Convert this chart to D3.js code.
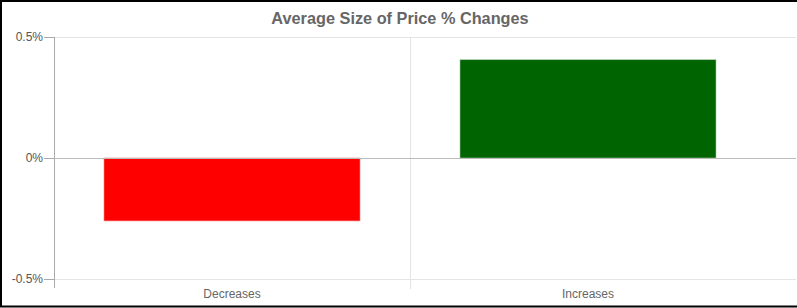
<!DOCTYPE html>
<html>
<head>
<meta charset="utf-8">
<script src="https://cdn.jsdelivr.net/npm/d3@7"></script>
<style>
  body { margin: 0; background: #fff; }
  svg { display: block; font-family: "Liberation Sans", Arial, sans-serif; }
</style>
</head>
<body>
<svg id="chart"></svg>
<script>
const categories = ['Decreases', 'Increases'];
const values = [-0.26, 0.406];
const colors = ['#ff0000', '#006400'];
const yTicks = [-0.5, 0, 0.5];
const tickLabels = ['-0.5%', '0%', '0.5%'];

const width = 797, height = 308;
const svg = d3.select('#chart').attr('width', width).attr('height', height);

const x = d3.scaleBand().domain(categories).range([54, 766]).paddingInner(0).paddingOuter(0);
const y = d3.scaleLinear().domain([-0.5, 0.5]).range([279, 37]);

// frame
svg.append('rect')
  .attr('x', 1).attr('y', 1).attr('width', width + 2).attr('height', height - 2.5)
  .attr('fill', 'none').attr('stroke', '#000').attr('stroke-width', 2);

svg.append('text')
  .attr('x', 400).attr('y', 24)
  .attr('text-anchor', 'middle')
  .attr('font-size', 16.3).attr('font-weight', 'bold').attr('fill', '#666')
  .text('Average Size of Price % Changes');

// horizontal grid
svg.append('g').selectAll('line').data(yTicks).join('line')
  .attr('x1', 44).attr('x2', 796)
  .attr('y1', d => Math.round(y(d)) + 0.5).attr('y2', d => Math.round(y(d)) + 0.5)
  .attr('stroke', d => d === 0 ? '#bbb' : '#e4e4e4');

// category divider
svg.append('line')
  .attr('x1', x('Increases') + 0.5).attr('x2', x('Increases') + 0.5)
  .attr('y1', 37).attr('y2', 289)
  .attr('stroke', '#e4e4e4');

// y axis line
svg.append('line')
  .attr('x1', 54.5).attr('x2', 54.5).attr('y1', 37).attr('y2', 288)
  .attr('stroke', '#aaa');

// tick marks + labels
svg.append('g').selectAll('line').data(yTicks).join('line')
  .attr('x1', 44).attr('x2', 54)
  .attr('y1', d => Math.round(y(d)) + 0.5).attr('y2', d => Math.round(y(d)) + 0.5)
  .attr('stroke', '#aaa');

svg.append('g').selectAll('text').data(yTicks).join('text')
  .attr('x', 43).attr('y', d => y(d) + 4)
  .attr('text-anchor', 'end').attr('font-size', 12).attr('fill', '#555')
  .text((d, i) => tickLabels[i]);

// bars
const barW = 256;
svg.append('g').selectAll('rect').data(values).join('rect')
  .attr('x', (d, i) => x(categories[i]) + (x.bandwidth() - barW) / 2)
  .attr('width', barW)
  .attr('y', d => y(Math.max(0, d)))
  .attr('height', d => Math.abs(y(d) - y(0)))
  .attr('fill', (d, i) => colors[i])
  .attr('stroke', (d, i) => i === 0 ? '#ff8080' : '#a0c8a0').attr('stroke-width', 0.6);

// zero line over bars
svg.append('line')
  .attr('x1', 54).attr('x2', 796)
  .attr('y1', Math.round(y(0)) + 0.5).attr('y2', Math.round(y(0)) + 0.5)
  .attr('stroke', '#bbb');

// category labels
svg.append('g').selectAll('text').data(categories).join('text')
  .attr('x', d => x(d) + x.bandwidth() / 2).attr('y', 298)
  .attr('text-anchor', 'middle').attr('font-size', 12).attr('fill', '#666')
  .text(d => d);
</script>
</body>
</html>
